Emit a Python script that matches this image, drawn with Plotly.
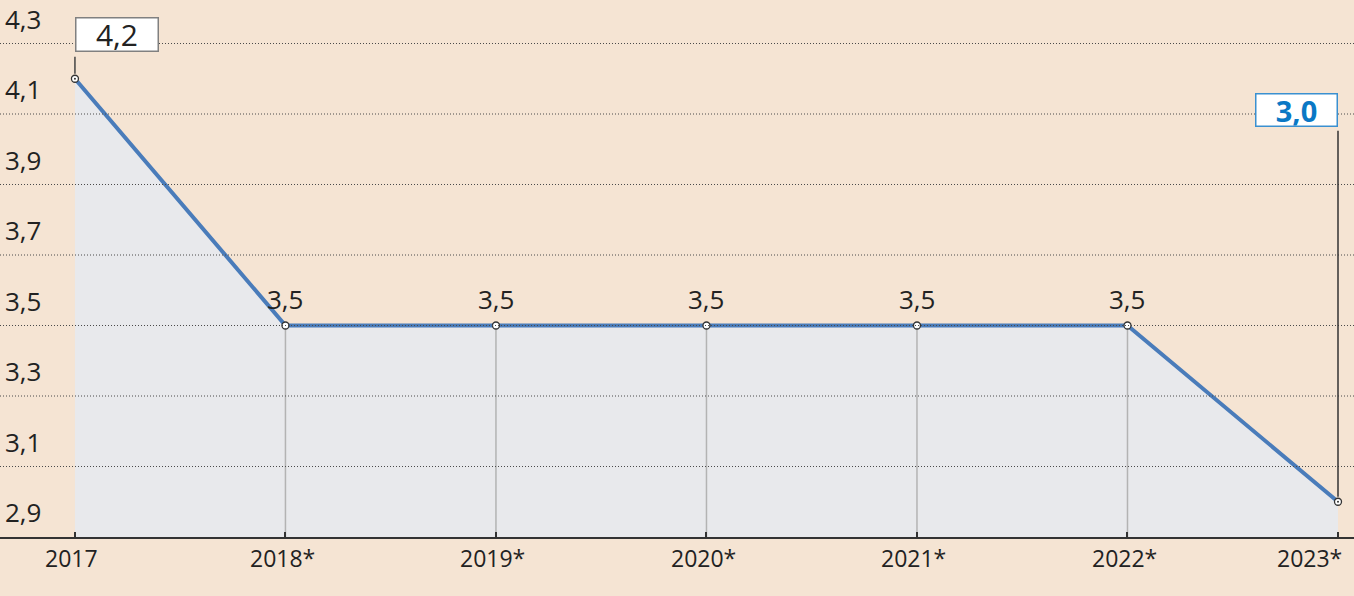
import plotly.graph_objects as go

years = [2017, 2018, 2019, 2020, 2021, 2022, 2023]
year_labels = ["2017", "2018*", "2019*", "2020*", "2021*", "2022*", "2023*"]
values = [4.2, 3.5, 3.5, 3.5, 3.5, 3.5, 3.0]
value_labels = ["4,2", "3,5", "3,5", "3,5", "3,5", "3,5", "3,0"]
y_ticks = [4.3, 4.1, 3.9, 3.7, 3.5, 3.3, 3.1, 2.9]
y_tick_labels = ["4,3", "4,1", "3,9", "3,7", "3,5", "3,3", "3,1", "2,9"]

BG = "#f5e4d3"
FILL = "#e8e9ec"
LINE = "#4a7cba"
TXT = "#222222"
BLUE = "#0a78c5"
FONT = "Open Sans"
Y0 = 2.9

fig = go.Figure()

# area fill
fig.add_trace(go.Scatter(x=years, y=values, mode="lines", fill="tozeroy",
                         fillcolor=FILL, line=dict(width=0), hoverinfo="skip",
                         showlegend=False))

# vertical drop lines for middle points
dx, dy = [], []
for xv, yv in zip(years[1:-1], values[1:-1]):
    dx += [xv, xv, None]
    dy += [yv, Y0, None]
fig.add_trace(go.Scatter(x=dx, y=dy, mode="lines",
                         line=dict(color="#b3b3b3", width=1.5),
                         hoverinfo="skip", showlegend=False))

# main line
fig.add_trace(go.Scatter(x=years, y=values, mode="lines",
                         line=dict(color=LINE, width=4),
                         showlegend=False))
# markers
fig.add_trace(go.Scatter(x=years, y=values, mode="markers",
                         marker=dict(size=7, color="white",
                                     line=dict(color="#333333", width=1.3)),
                         showlegend=False))
# center dots for first/last
fig.add_trace(go.Scatter(x=[years[0], years[-1]], y=[values[0], values[-1]],
                         mode="markers",
                         marker=dict(size=2, color="#333333"),
                         showlegend=False))

shapes = []
# dotted gridlines above everything
for t in y_ticks[:-1]:
    shapes.append(dict(type="line", xref="paper", yref="y", x0=0, x1=1,
                       y0=t, y1=t, layer="above",
                       line=dict(color="#4a4a4a", width=1, dash="1px,2px")))

# connector for first value box
shapes.append(dict(type="line", xref="x", yref="y", x0=years[0], x1=years[0],
                   ysizemode="pixel", yanchor=values[0], y0=5, y1=22,
                   line=dict(color="#444444", width=1.5)))
# connector for last value box
shapes.append(dict(type="line", xref="x", yref="y", x0=years[-1], x1=years[-1],
                   ysizemode="pixel", yanchor=values[-1], y0=5, y1=371,
                   line=dict(color="#333333", width=1.5)))

annotations = []
# y tick labels above gridlines
for t, lab in zip(y_ticks, y_tick_labels):
    annotations.append(dict(x=0, xref="paper", y=t, yref="y", text=lab,
                            showarrow=False, xanchor="left", yanchor="middle",
                            xshift=3, yshift=25,
                            font=dict(family=FONT, size=26, color=TXT)))
# x tick labels
for i, (xv, lab) in enumerate(zip(years, year_labels)):
    last = i == len(years) - 1
    annotations.append(dict(x=xv, xref="x", y=0, yref="paper", text=lab,
                            showarrow=False,
                            xanchor="right" if last else "center",
                            xshift=6 if last else -3,
                            yanchor="top", yshift=-3,
                            font=dict(family=FONT, size=23, color=TXT)))
# middle value labels
for xv, yv, lab in zip(years[1:-1], values[1:-1], value_labels[1:-1]):
    annotations.append(dict(x=xv, y=yv, text=lab, showarrow=False,
                            xanchor="center", yanchor="middle", yshift=27,
                            font=dict(family=FONT, size=26, color=TXT)))
# first value box
annotations.append(dict(x=years[0], y=values[0], text=value_labels[0],
                        showarrow=False, xanchor="left", yanchor="middle",
                        yshift=44, width=81, height=32, borderpad=0,
                        bgcolor="white", bordercolor="#808080", borderwidth=1.5,
                        font=dict(family=FONT, size=30, color=TXT)))
# last value box
annotations.append(dict(x=years[-1], y=values[-1], text="<b>" + value_labels[-1] + "</b>",
                        showarrow=False, xanchor="right", yanchor="middle",
                        yshift=392, width=80, height=31, borderpad=0,
                        bgcolor="white", bordercolor="#3a90d0", borderwidth=1.5,
                        font=dict(family=FONT, size=29, color=BLUE)))

fig.update_layout(
    width=1354, height=596,
    margin=dict(l=0, r=0, t=0, b=59),
    paper_bgcolor=BG, plot_bgcolor=BG,
    shapes=shapes, annotations=annotations,
    showlegend=False,
    xaxis=dict(range=[2016.644, 2023.076], showgrid=False, zeroline=False,
               showticklabels=False, tickvals=years, ticks="inside",
               ticklen=5, tickcolor="#333333", tickwidth=1.5,
               showline=True, linecolor="#333333", linewidth=1.5,
               fixedrange=True),
    yaxis=dict(range=[Y0, 4.4234], showgrid=False, zeroline=False,
               showticklabels=False, fixedrange=True),
)

fig.write_html("out.html", config={"displayModeBar": False},
               post_script="document.body.style.margin='0';document.body.style.background='" + BG + "';")
